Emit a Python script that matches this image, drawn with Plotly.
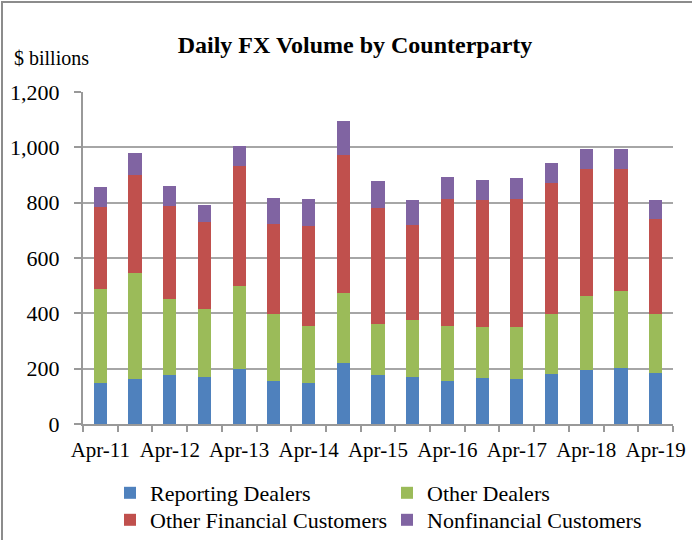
import plotly.graph_objects as go

periods = ["Apr-11", "Oct-11", "Apr-12", "Oct-12", "Apr-13", "Oct-13", "Apr-14", "Oct-14",
           "Apr-15", "Oct-15", "Apr-16", "Oct-16", "Apr-17", "Oct-17", "Apr-18", "Oct-18", "Apr-19"]
tick_labels = ["Apr-11", "", "Apr-12", "", "Apr-13", "", "Apr-14", "", "Apr-15", "",
               "Apr-16", "", "Apr-17", "", "Apr-18", "", "Apr-19"]

reporting_dealers = [149, 162, 176, 171, 200, 154, 149, 221, 176, 171, 154, 166, 162, 179, 196, 204, 184]
other_dealers = [339, 383, 276, 243, 298, 243, 206, 252, 187, 205, 201, 185, 189, 218, 268, 277, 213]
other_financial = [296, 356, 337, 316, 436, 327, 362, 499, 417, 345, 458, 458, 462, 475, 458, 439, 345]
nonfinancial = [71, 77, 71, 61, 72, 94, 96, 122, 100, 88, 80, 72, 76, 72, 72, 74, 67]

series = [
    ("Reporting Dealers", reporting_dealers, "#4F81BD", "legend"),
    ("Other Dealers", other_dealers, "#9BBB59", "legend"),
    ("Other Financial Customers", other_financial, "#C0504D", "legend2"),
    ("Nonfinancial Customers", nonfinancial, "#8064A2", "legend2"),
]

FONT = "Liberation Serif, Times New Roman, serif"

fig = go.Figure()
for name, vals, color, leg in series:
    fig.add_trace(go.Bar(x=periods, y=vals, name=name, legend=leg,
                         marker=dict(color=color, line=dict(width=0))))

W, H = 692, 540
ml, mr, mt, mb = 83, 19, 92, 116
pw, ph = W - ml - mr, H - mt - mb

def px_x(p):
    return (p - ml) / pw

def px_y(p):
    return (H - mb - p) / ph

legend_common = dict(
    orientation="h", x=px_x(110), xanchor="left", yanchor="top",
    entrywidth=232, entrywidthmode="pixels", traceorder="normal",
    font=dict(family=FONT, size=22), itemwidth=30, bgcolor="rgba(0,0,0,0)",
)

fig.update_layout(
    width=W, height=H,
    margin=dict(l=ml, r=mr, t=mt, b=mb, autoexpand=False),
    barmode="stack",
    bargap=0.62,
    paper_bgcolor="white",
    plot_bgcolor="white",
    font=dict(family=FONT, size=21, color="black"),
    title=dict(text="<b>Daily FX Volume by Counterparty</b>", x=355 / W, xanchor="center",
               y=1 - 45 / H, yanchor="middle", font=dict(family=FONT, size=24, color="black")),
    xaxis=dict(
        tickmode="array", tickvals=periods, ticktext=tick_labels,
        tickson="boundaries", ticks="outside", ticklen=6, tickwidth=2, tickcolor="#999999",
        showline=True, linecolor="#999999", linewidth=2, showgrid=False,
        tickfont=dict(family=FONT, size=21), tickangle=0, ticklabelstandoff=6,
    ),
    yaxis=dict(
        range=[0, 1200], dtick=200, tickformat=",",
        ticks="outside", ticklen=7, tickwidth=2, tickcolor="#999999",
        showline=True, linecolor="#999999", linewidth=2,
        showgrid=True, gridcolor="#a6a6a6", gridwidth=2, zeroline=False,
        tickfont=dict(family=FONT, size=22), ticklabelstandoff=10,
    ),
    legend=dict(y=px_y(472), **legend_common),
    legend2=dict(y=px_y(499), **legend_common),
    showlegend=True,
)

fig.add_annotation(text="$ billions", xref="paper", yref="paper", x=px_x(12), y=px_y(58),
                   xanchor="left", yanchor="middle", showarrow=False,
                   font=dict(family=FONT, size=20, color="black"))

# outer frame lines
fig.add_shape(type="line", xref="paper", yref="paper", x0=px_x(2), x1=px_x(2), y0=px_y(1), y1=px_y(540),
              line=dict(color="#8c8c8c", width=2))
fig.add_shape(type="line", xref="paper", yref="paper", x0=px_x(1), x1=px_x(692), y0=px_y(2), y1=px_y(2),
              line=dict(color="#8c8c8c", width=2))

fig.write_html("out.html", config={"displayModeBar": False},
               post_script="document.body.style.margin='0';")
